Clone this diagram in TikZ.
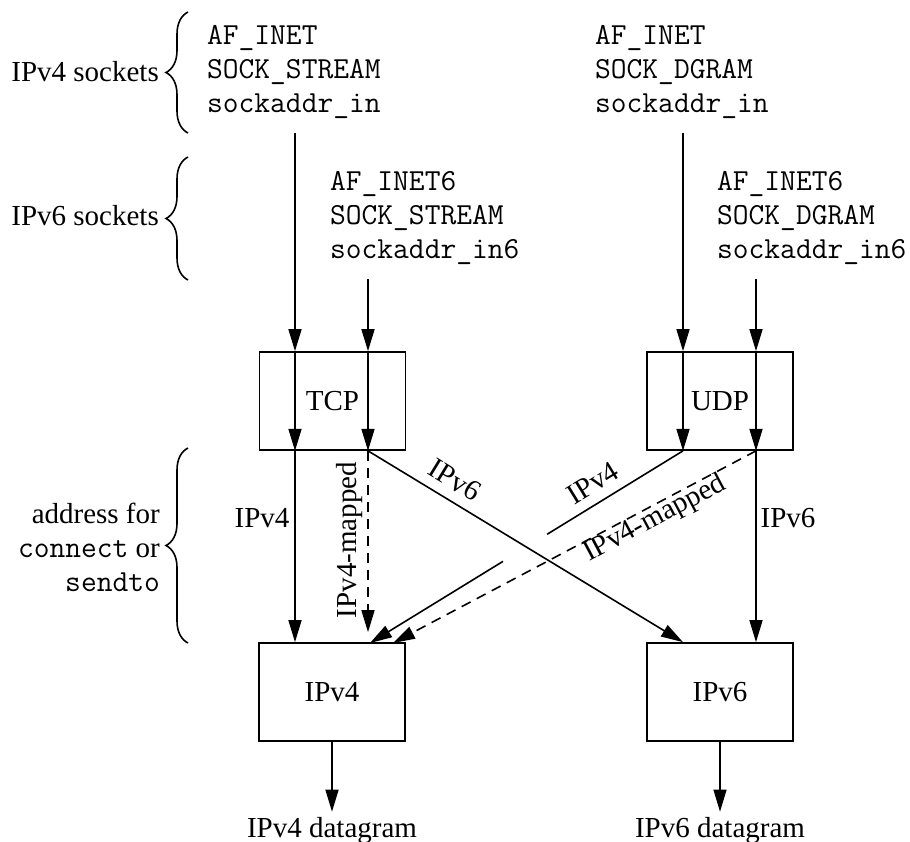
\documentclass[tikz,border=0pt]{standalone}
\usepackage{fontspec}
\setmainfont{Liberation Serif}
\usetikzlibrary{arrows.meta,decorations.pathreplacing,calc}
\begin{document}
\begin{tikzpicture}[x=1pt,y=-1pt,
  every node/.style={inner sep=0pt},
  lbl/.style={font=\fontsize{29}{34}\selectfont},
  mono/.style={font=\fontsize{30.6}{34}\selectfont\ttfamily, align=left, anchor=west},
  box/.style={draw, line width=1.7pt, minimum width=146pt, minimum height=98pt, font=\fontsize{29}{34}\selectfont},
  conn/.style={line width=1.6pt, -{Triangle[length=22pt,width=13pt]}},
  thinconn/.style={line width=1.1pt, -{Triangle[length=22pt,width=13pt]}},
  dconn/.style={conn, dash pattern=on 10pt off 7pt},
  plain/.style={line width=1.6pt},
  brc/.style={decorate, decoration={brace, amplitude=22pt}, line width=1.6pt}
]
\fill[white] (0,0) rectangle (910,841);
\useasboundingbox (0,0) rectangle (910,841);

% socket descriptions
\node[mono] (s4l) at (207,72) {AF\_INET\\SOCK\_STREAM\\sockaddr\_in};
\node[mono] (s4r) at (595,72) {AF\_INET\\SOCK\_DGRAM\\sockaddr\_in};
\node[mono] (s6l) at (330,218) {AF\_INET6\\SOCK\_STREAM\\sockaddr\_in6};
\node[mono] (s6r) at (717,218) {AF\_INET6\\SOCK\_DGRAM\\sockaddr\_in6};

% left side labels and braces
\node[lbl, anchor=east] (k4) at (159,72) {IPv4 sockets};
\node[lbl, anchor=east] (k6) at (159,216) {IPv6 sockets};
\node[lbl, anchor=east, align=right] (ka) at (160,547) {address for\\{\ttfamily\fontsize{30.6}{34}\selectfont connect} or\\{\ttfamily\fontsize{30.6}{34}\selectfont sendto}};
\draw[brc] (188,133) -- (188,12);
\draw[brc] (188,280) -- (188,157);
\draw[brc] (188,643) -- (188,448);

% boxes
\node[box] (tcp) at (332.5,401) {TCP};
\node[box] (udp) at (720,401) {UDP};
\node[box] (ip4) at (332,692) {IPv4};
\node[box] (ip6) at (720,692) {IPv6};

% entry points
\coordinate (a) at (295,133);
\coordinate (b) at (368,279);
\coordinate (c) at (683,133);
\coordinate (d) at (756,279);
\coordinate (q4) at (370,643);
\coordinate (q6) at (393,643);

% TCP IPv4 path
\draw[conn] (a) -- (a |- tcp.north);
\draw[conn] (a |- tcp.north) -- (a |- tcp.south);
\draw[conn] (a |- tcp.south) -- (a |- ip4.north);
% TCP IPv6 path
\draw[conn] (b) -- (b |- tcp.north);
\draw[conn] (b |- tcp.north) -- (b |- tcp.south);
\draw[dconn, shorten >=10pt] (b |- tcp.south) -- (b |- ip4.north);
\draw[conn] (b |- tcp.south) -- (c |- ip6.north);
% UDP IPv4 path
\draw[conn] (c) -- (c |- udp.north);
\draw[conn] (c |- udp.north) -- (c |- udp.south);
\draw[plain] (c |- udp.south) -- ($(c |- udp.south)!0.434!(q4)$);
\draw[conn] ($(c |- udp.south)!0.575!(q4)$) -- (q4);
% UDP IPv6 path
\draw[conn] (d) -- (d |- udp.north);
\draw[conn] (d |- udp.north) -- (d |- udp.south);
\draw[conn] (d |- udp.south) -- (d |- ip6.north);
\draw[dconn] (d |- udp.south) -- (q6);

% connector labels
\node[lbl] (l1) at (262,518) {IPv4};
\node[lbl, rotate=90] (l2) at (350,540) {IPv4-mapped};
\node[lbl, rotate=-31.5] (l3) at (455,480) {IPv6};
\node[lbl, rotate=31.7] (l4) at (593,483) {IPv4};
\node[lbl, rotate=28] (l5) at (655,519) {IPv4-mapped};
\node[lbl] (l6) at (788,518) {IPv6};

% datagrams
\node[lbl, anchor=base] (dg4) at (332,837) {IPv4 datagram};
\node[lbl, anchor=base] (dg6) at (720,837) {IPv6 datagram};
\draw[conn, shorten >=5pt] (ip4.south) -- (ip4.south |- dg4.north);
\draw[thinconn, shorten >=5pt] (ip6.south) -- (ip6.south |- dg6.north);
\end{tikzpicture}
\end{document}
